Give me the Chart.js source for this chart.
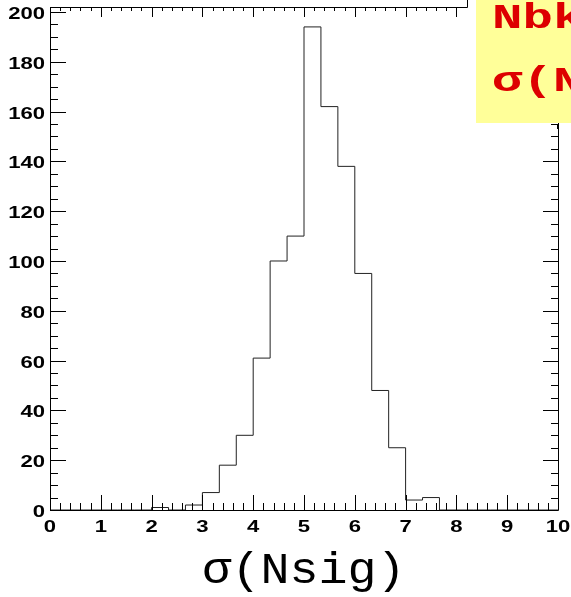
<!DOCTYPE html>
<html>
<head>
<meta charset="utf-8">
<script src="https://cdn.jsdelivr.net/npm/chart.js@4.4.1/dist/chart.umd.min.js"></script>
<style>
  body { margin: 0; background: #fff; }
  #wrap { width: 571px; height: 597px; }
</style>
</head>
<body>
<div id="wrap"><canvas id="hist" width="571" height="597"></canvas></div>
<script>
// --- Data ---
const xMin = 0;
const xMax = 10;
const binWidth = 1 / 3;
// counts per bin, 30 bins from 0 to 10
const counts = [
    0, 0, 0, 0, 0, 0,
    1, 0, 2,
    7, 18, 30,
    61, 100, 110,
    194, 162, 138,
    95, 48, 25,
    4, 5, 0,
    0, 0, 0, 0, 0, 0
];
const xTickLabels = ['0', '1', '2', '3', '4', '5', '6', '7', '8', '9', '10'];
const yTickLabels = ['0', '20', '40', '60', '80', '100', '120', '140', '160', '180', '200'];
const xTitle = 'σ(Nsig)';
const boxLines = ['Nbkg', 'σ(Nsig)'];

// step outline points: one per bin low edge, plus the last edge
const points = counts.map((c, i) => ({ x: xMin + i * binWidth, y: c }));
points.push({ x: xMax, y: counts[counts.length - 1] });

function stretchText(ctx, text, x, y, font, sx, align) {
    ctx.save();
    ctx.font = font;
    ctx.translate(x, y);
    ctx.scale(sx, 1);
    ctx.textAlign = align;
    ctx.textBaseline = 'alphabetic';
    ctx.fillText(text, 0, 0);
    ctx.restore();
}

// frame, ticks, labels, title and the yellow box (ROOT style)
const rootFrame = {
    id: 'rootFrame',
    afterDraw(chart) {
        const ctx = chart.ctx;
        const xs = chart.scales.x;
        const ys = chart.scales.y;
        const { left, right, top, bottom } = chart.chartArea;

        ctx.save();
        ctx.strokeStyle = '#000';
        ctx.lineWidth = 1;

        // frame
        ctx.beginPath();
        ctx.moveTo(left + 0.5, top + 0.5);
        ctx.lineTo(left + 0.5, bottom + 0.5);
        ctx.lineTo(right + 0.5, bottom + 0.5);
        ctx.lineTo(right + 0.5, top + 0.5);
        ctx.moveTo(left, top + 0.5);
        ctx.lineTo(467.5, top + 0.5);
        ctx.lineTo(467.5, 0);
        ctx.stroke();

        // x ticks (bottom up, top down)
        ctx.beginPath();
        for (let i = 0; i <= 50; i++) {
            const v = xMin + i * 0.2;
            const px = Math.round(xs.getPixelForValue(v)) + 0.5;
            const major = i % 5 === 0;
            ctx.moveTo(px, bottom);
            ctx.lineTo(px, bottom - (major ? 15 : 7));
            if (px < 467) {
                ctx.moveTo(px, top);
                ctx.lineTo(px, top + (major ? 10 : 4));
            }
        }
        // y ticks (left to the right, right to the left)
        for (let i = 0; i <= 40; i++) {
            const v = i * 5;
            const py = Math.round(ys.getPixelForValue(v)) + 0.5;
            const major = i % 4 === 0;
            ctx.moveTo(left, py);
            ctx.lineTo(left + (major ? 16 : 8), py);
            if (py > 124) {
                ctx.moveTo(right, py);
                ctx.lineTo(right - (major ? 15 : 7), py);
            }
        }
        ctx.stroke();

        // tick labels
        ctx.fillStyle = '#000';
        const tickFont = 'bold 17px "Liberation Sans", Arial, sans-serif';
        xTickLabels.forEach(t => {
            const px = xs.getPixelForValue(Number(t));
            stretchText(ctx, t, px, 532, tickFont, 1.3, 'center');
        });
        yTickLabels.forEach(t => {
            const py = ys.getPixelForValue(Number(t));
            stretchText(ctx, t, 45, py + 7, tickFont, 1.3, 'right');
        });

        // axis title
        stretchText(ctx, xTitle, 304, 583, '44px "Liberation Mono", "Courier New", monospace', 1.1, 'center');

        // yellow text box at top right
        ctx.fillStyle = '#ffff99';
        ctx.fillRect(476, 0, 571 - 476, 123);
        ctx.beginPath();
        ctx.moveTo(552, 124.5);
        ctx.lineTo(557.5, 124.5);
        ctx.lineTo(557.5, 129);
        ctx.stroke();
        ctx.fillStyle = '#dd0000';
        const boxFont = 'bold 35px "Liberation Mono", "Courier New", monospace';
        stretchText(ctx, boxLines[0], 492, 28, boxFont, 1.45, 'left');
        stretchText(ctx, boxLines[1], 492, 91, boxFont, 1.45, 'left');

        ctx.restore();
    }
};

new Chart(document.getElementById('hist'), {
    type: 'line',
    data: {
        datasets: [{
            data: points,
            stepped: 'before',
            borderColor: '#222',
            borderWidth: 1,
            pointRadius: 0,
            fill: false
        }]
    },
    options: {
        responsive: false,
        animation: false,
        layout: { padding: { left: 50, right: 13, top: 7, bottom: 87 } },
        plugins: {
            legend: { display: false },
            tooltip: { enabled: false }
        },
        scales: {
            x: { type: 'linear', min: xMin, max: xMax, display: false },
            y: { type: 'linear', min: 0, max: 202, display: false }
        }
    },
    plugins: [rootFrame]
});
</script>
</body>
</html>
